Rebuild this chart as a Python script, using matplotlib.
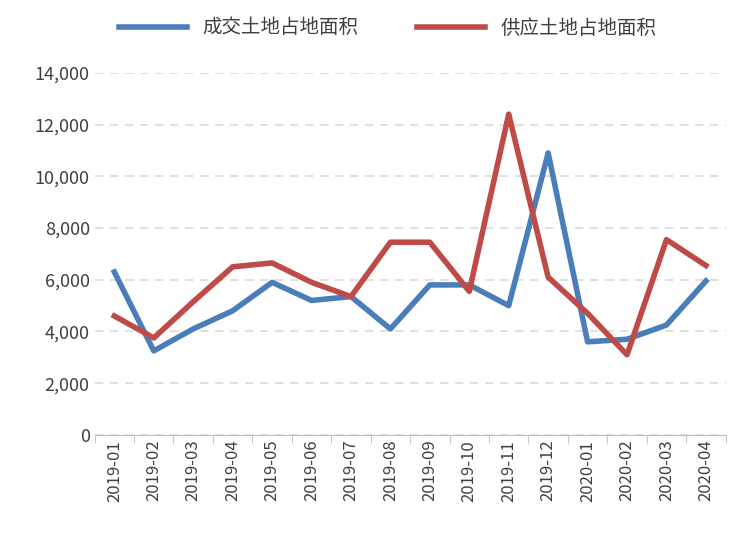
import matplotlib
matplotlib.use("Agg")
import matplotlib.pyplot as plt
from matplotlib.ticker import FuncFormatter

months = ["2019-01","2019-02","2019-03","2019-04","2019-05","2019-06","2019-07","2019-08",
          "2019-09","2019-10","2019-11","2019-12","2020-01","2020-02","2020-03","2020-04"]
deal = [6300,3250,4100,4800,5900,5200,5350,4100,5800,5800,5000,10900,3600,3700,4250,5950]
supply = [4600,3750,5150,6500,6650,5900,5350,7450,7450,5550,12400,6100,4700,3100,7550,6550]

plt.rcParams["font.family"] = ["sans-serif"]
plt.rcParams["font.sans-serif"] = ["Noto Sans CJK SC","Noto Sans CJK JP","Noto Sans CJK TC","Noto Sans CJK KR","DejaVu Sans"]
fig = plt.figure(figsize=(7.45,5.39), dpi=100)
ax = fig.add_axes([0.127, 0.193, 0.847, 0.672])
x = range(len(months))
ax.plot(x, deal, color="#4a7ebb", lw=4, label="成交土地占地面积")
ax.plot(x, supply, color="#be4b48", lw=4, label="供应土地占地面积")
ax.set_ylim(0,14000)
ax.set_yticks(range(0,14001,2000))
ax.yaxis.set_major_formatter(FuncFormatter(lambda v,p: f"{int(v):,}"))
ax.set_xlim(-0.5, len(months)-0.5)
ax.set_xticks(list(x))
ax.set_xticklabels(months, rotation=90, fontsize=12, color="#404040")
ax.tick_params(axis="y", labelsize=13, colors="#404040", length=0)
ax.set_xticks([i-0.5 for i in range(len(months)+1)], minor=True)
ax.tick_params(axis="x", which="major", length=0)
ax.tick_params(axis="x", which="minor", length=6, color="#bfbfbf")
ax.grid(axis="y", ls=(0,(5,4)), color="#dadada", lw=1.2)
for s in ["top","right","left"]:
    ax.spines[s].set_visible(False)
ax.spines["bottom"].set_color("#bfbfbf")
fig.legend(loc="upper center", bbox_to_anchor=(0.52,1.0), ncol=2, frameon=False,
           fontsize=14, handlelength=3.5, columnspacing=3, labelcolor="#404040")
fig.savefig("out.png", dpi=100)
